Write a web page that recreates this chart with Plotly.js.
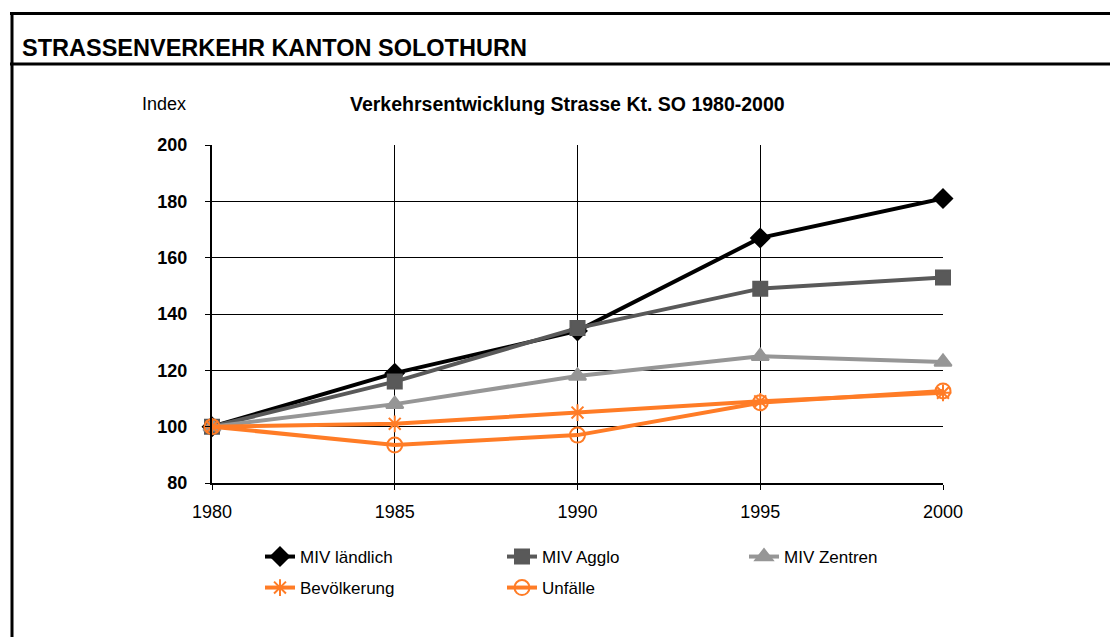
<!DOCTYPE html>
<html>
<head>
<meta charset="utf-8">
<script src="https://cdn.plot.ly/plotly-3.0.1.min.js"></script>
<style>
  html, body { margin: 0; padding: 0; background: #fff; }
  #plot { width: 1110px; height: 637px; }
</style>
</head>
<body>
<div id="plot"></div>
<script>
// Daten (Index 1980 = 100)
const jahre = [1980, 1985, 1990, 1995, 2000];
const mivLaendlich = [100, 119, 134, 167, 181];
const mivAgglo = [100, 116, 135, 149, 153];
const mivZentren = [100, 108, 118, 125, 123];
const bevoelkerung = [100, 101, 105, 109, 112];
const unfaelle = [100, 93.5, 97, 108.5, 112.7];

const W = 1110, H = 637;
const L = 212, R = 943, T = 145, B = 483;
// Pixel -> paper
const px = x => (x - L) / (R - L);
const py = y => (B - y) / (B - T);

const FONT = 'Liberation Sans, Arial, sans-serif';
const orange = '#ff7c26';

function serie(name, y, color, symbol, size, legend) {
    return {
        x: jahre, y: y, name: name,
        type: 'scatter', mode: 'lines+markers',
        line: { color: color, width: 4 },
        marker: { symbol: symbol, size: size, color: color, line: { color: color, width: 2 } },
        cliponaxis: false,
        legend: legend
    };
}

const traces = [
    serie('MIV ländlich', mivLaendlich, '#000000', 'diamond', 14, 'legend'),
    serie('MIV Agglo', mivAgglo, '#595959', 'square', 14, 'legend'),
    serie('MIV Zentren', mivZentren, '#969696', 'triangle-up', 15, 'legend'),
    serie('Bevölkerung', bevoelkerung, orange, 'asterisk-open', 14, 'legend2'),
    serie('Unfälle', unfaelle, orange, 'circle-open', 15, 'legend2')
];

const legendBase = {
    orientation: 'h', xref: 'paper', yref: 'paper',
    x: px(260), xanchor: 'left', yanchor: 'middle',
    entrywidth: 197, entrywidthmode: 'pixels',
    font: { family: FONT, size: 17, color: '#000' },
    bgcolor: 'rgba(0,0,0,0)', itemclick: false, itemdoubleclick: false
};

const layout = {
    width: W, height: H,
    margin: { l: L, r: W - R, t: T, b: H - B },
    paper_bgcolor: '#fff', plot_bgcolor: '#fff',
    font: { family: FONT, size: 16, color: '#000' },
    showlegend: true,
    legend: Object.assign({}, legendBase, { y: py(557) }),
    legend2: Object.assign({}, legendBase, { y: py(588) }),
    xaxis: {
        range: [1980, 2000], tickmode: 'linear', tick0: 1980, dtick: 5,
        showgrid: true, gridcolor: '#000', gridwidth: 1,
        showline: true, linecolor: '#000', linewidth: 2,
        ticks: 'outside', ticklen: 5, tickcolor: '#000',
        ticklabelstandoff: 6,
        zeroline: false,
        tickfont: { family: FONT, size: 18, color: '#000' }
    },
    yaxis: {
        range: [80, 200], tickmode: 'linear', tick0: 80, dtick: 20,
        showgrid: true, gridcolor: '#000', gridwidth: 1,
        showline: true, linecolor: '#000', linewidth: 2,
        ticks: 'outside', ticklen: 5, tickcolor: '#000',
        ticklabelstandoff: 14,
        zeroline: false,
        tickfont: { family: FONT, size: 18, color: '#000', weight: 'bold' }
    },
    annotations: [
        { text: '<b>STRASSENVERKEHR KANTON SOLOTHURN</b>', xref: 'paper', yref: 'paper',
          x: px(20), y: py(48), xanchor: 'left', yanchor: 'middle', showarrow: false,
          font: { family: FONT, size: 23.5, color: '#000' } },
        { text: '<b>Verkehrsentwicklung Strasse Kt. SO 1980-2000</b>', xref: 'paper', yref: 'paper',
          x: px(567), y: py(104), xanchor: 'center', yanchor: 'middle', showarrow: false,
          font: { family: FONT, size: 19.5, color: '#000' } },
        { text: 'Index', xref: 'paper', yref: 'paper',
          x: px(188), y: py(104), xanchor: 'right', yanchor: 'middle', showarrow: false,
          font: { family: FONT, size: 18, color: '#000' } }
    ],
    shapes: [
        { type: 'line', xref: 'paper', yref: 'paper', x0: px(10), x1: px(1112), y0: py(13.5), y1: py(13.5),
          line: { color: '#000', width: 3 } },
        { type: 'line', xref: 'paper', yref: 'paper', x0: px(10), x1: px(1112), y0: py(64), y1: py(64),
          line: { color: '#000', width: 3 } },
        { type: 'line', xref: 'paper', yref: 'paper', x0: px(12), x1: px(12), y0: py(12), y1: py(640),
          line: { color: '#000', width: 3 } }
    ]
};

Plotly.newPlot('plot', traces, layout, { displayModeBar: false, staticPlot: true });
</script>
</body>
</html>
